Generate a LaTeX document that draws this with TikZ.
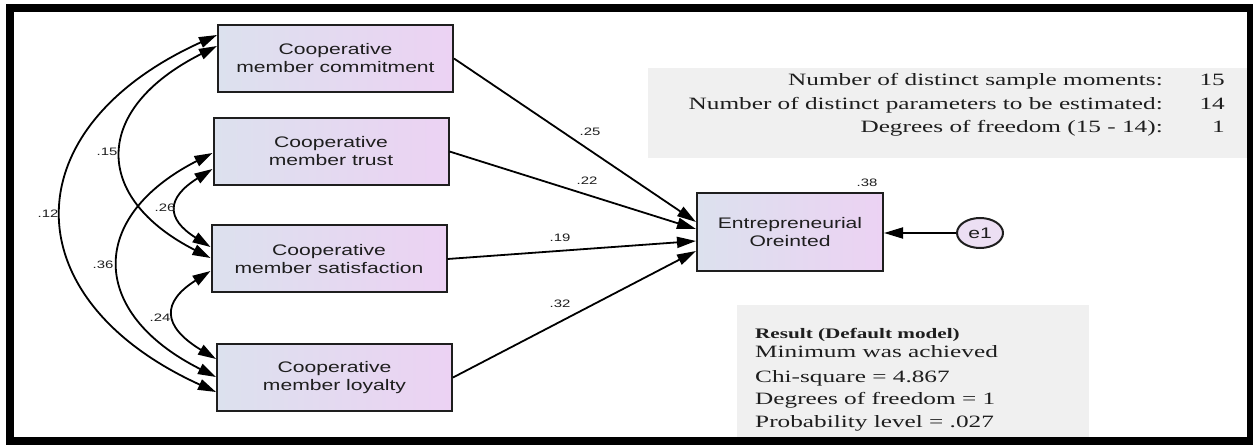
\documentclass[tikz,border=0pt]{standalone}
\usepackage{fontspec}
\setmainfont{Liberation Serif}[FakeStretch=1.46]
\setsansfont{Liberation Sans}[FakeStretch=1.38]
\usetikzlibrary{arrows.meta,calc,shapes.geometric}
\definecolor{boxL}{HTML}{DCE1EE}
\definecolor{boxR}{HTML}{ECD2F3}
\definecolor{panel}{HTML}{F0F0F0}
\definecolor{ink}{HTML}{1E1E1E}
\definecolor{eone}{HTML}{ECDFF3}
\begin{document}
\begin{tikzpicture}[x=1pt,y=-1pt,
  varbox/.style={draw=ink, line width=2pt, left color=boxL, right color=boxR,
    minimum width=235pt, minimum height=67pt, inner sep=0pt, align=center,
    font=\sffamily\fontsize{15.3}{18}\selectfont, text=ink},
  regarrow/.style={line width=1.8pt, -{Triangle[length=19pt,width=11pt]}},
  covarrow/.style={line width=1.8pt, {Triangle[length=18pt,width=11pt]}-{Triangle[length=18pt,width=11pt]}},
  coef/.style={font=\sffamily\fontsize{10.8}{12}\selectfont, text=ink, inner sep=1pt},
  stat/.style={font=\rmfamily\fontsize{17.3}{20}\selectfont, text=ink, inner sep=0pt},
  panelbox/.style={fill=panel, inner sep=0pt, anchor=north west}
]
\useasboundingbox (0,0) rectangle (1253,446);
\fill[white] (0,0) rectangle (1253,446);

% panels
\node[panelbox, minimum width=600pt, minimum height=90pt] (fitpanel) at (648,68) {};
\node[panelbox, minimum width=352pt, minimum height=132pt] (respanel) at (737,305) {};

% variables
\node[varbox] (com) at (335.5,58.5) {Cooperative\\member commitment};
\node[varbox] (tru) at (331,151.5) {Cooperative\\member trust};
\node[varbox] (sat) at (329,259) {Cooperative\\member satisfaction};
\node[varbox] (loy) at (334.5,377.5) {Cooperative\\member loyalty};
\node[varbox, minimum width=186pt, minimum height=78pt] (ent) at (790,232) {Entrepreneurial\\Oreinted};
\node[ellipse, draw=ink, line width=2pt, fill=eone, minimum width=46pt, minimum height=30pt,
  inner sep=0pt, font=\sffamily\fontsize{15.3}{18}\selectfont, text=ink] (e1) at (980,233) {e1};

% regression paths
\draw[regarrow] (com.east) -- ($(ent.west)+(0,-10)$);
\draw[regarrow] (tru.east) -- ($(ent.west)+(0,-3)$);
\draw[regarrow] (sat.east) -- ($(ent.west)+(0,9)$);
\draw[regarrow] (loy.east) -- ($(ent.west)+(0,19)$);
\draw[regarrow] (e1.west) -- ($(ent.east)+(0,1)$);

% covariances
\draw[covarrow] ($(com.west)+(0,-23.5)$) .. controls (11.5,128) and (11.5,299) .. ($(loy.west)+(0,14.5)$);
\draw[covarrow] ($(com.west)+(0,-12.5)$) .. controls (92,109) and (92,197.5) .. ($(sat.west)+(0,-1)$);
\draw[covarrow] ($(tru.west)+(0,1.5)$) .. controls (88,216.5) and (88,312.5) .. ($(loy.west)+(0,-0.5)$);
\draw[covarrow] ($(tru.west)+(0,17.5)$) .. controls (166,198) and (166,219) .. ($(sat.west)+(0,-12)$);
\draw[covarrow] ($(sat.west)+(0,12)$) .. controls (161.7,302) and (161.7,326) .. ($(loy.west)+(0,-18.5)$);

% coefficients
\node[coef] (c12) at (48,214) {.12};
\node[coef] (c15) at (107,152) {.15};
\node[coef] (c36) at (103,265) {.36};
\node[coef] (c26) at (165,208) {.26};
\node[coef] (c24) at (160,318) {.24};
\node[coef] (c25) at (590,132) {.25};
\node[coef] (c22) at (587,181) {.22};
\node[coef] (c19) at (560,238) {.19};
\node[coef] (c32) at (560,304) {.32};
\node[coef] (c38) at (867,183) {.38};

% fit statistics
\node[stat, anchor=base east] (s1) at (1163,86) {Number of distinct sample moments:};
\node[stat, anchor=base east] (v1) at (1225,86) {15};
\node[stat, anchor=base east] (s2) at (1163,110) {Number of distinct parameters to be estimated:};
\node[stat, anchor=base east] (v2) at (1225,110) {14};
\node[stat, anchor=base east] (s3) at (1163,133) {Degrees of freedom (15 - 14):};
\node[stat, anchor=base east] (v3) at (1225,133) {1};

\node[stat, anchor=base west, font=\rmfamily\bfseries\fontsize{14.5}{16}\selectfont] (r0) at (755,338) {Result (Default model)};
\node[stat, anchor=base west] (r1) at (755,357) {Minimum was achieved};
\node[stat, anchor=base west] (r2) at (755,382) {Chi-square = 4.867};
\node[stat, anchor=base west] (r3) at (755,404) {Degrees of freedom = 1};
\node[stat, anchor=base west] (r4) at (755,427) {Probability level = .027};

% frame
\draw[line width=8pt] (9.5,8.5) rectangle (1251,440.5);
\end{tikzpicture}
\end{document}
